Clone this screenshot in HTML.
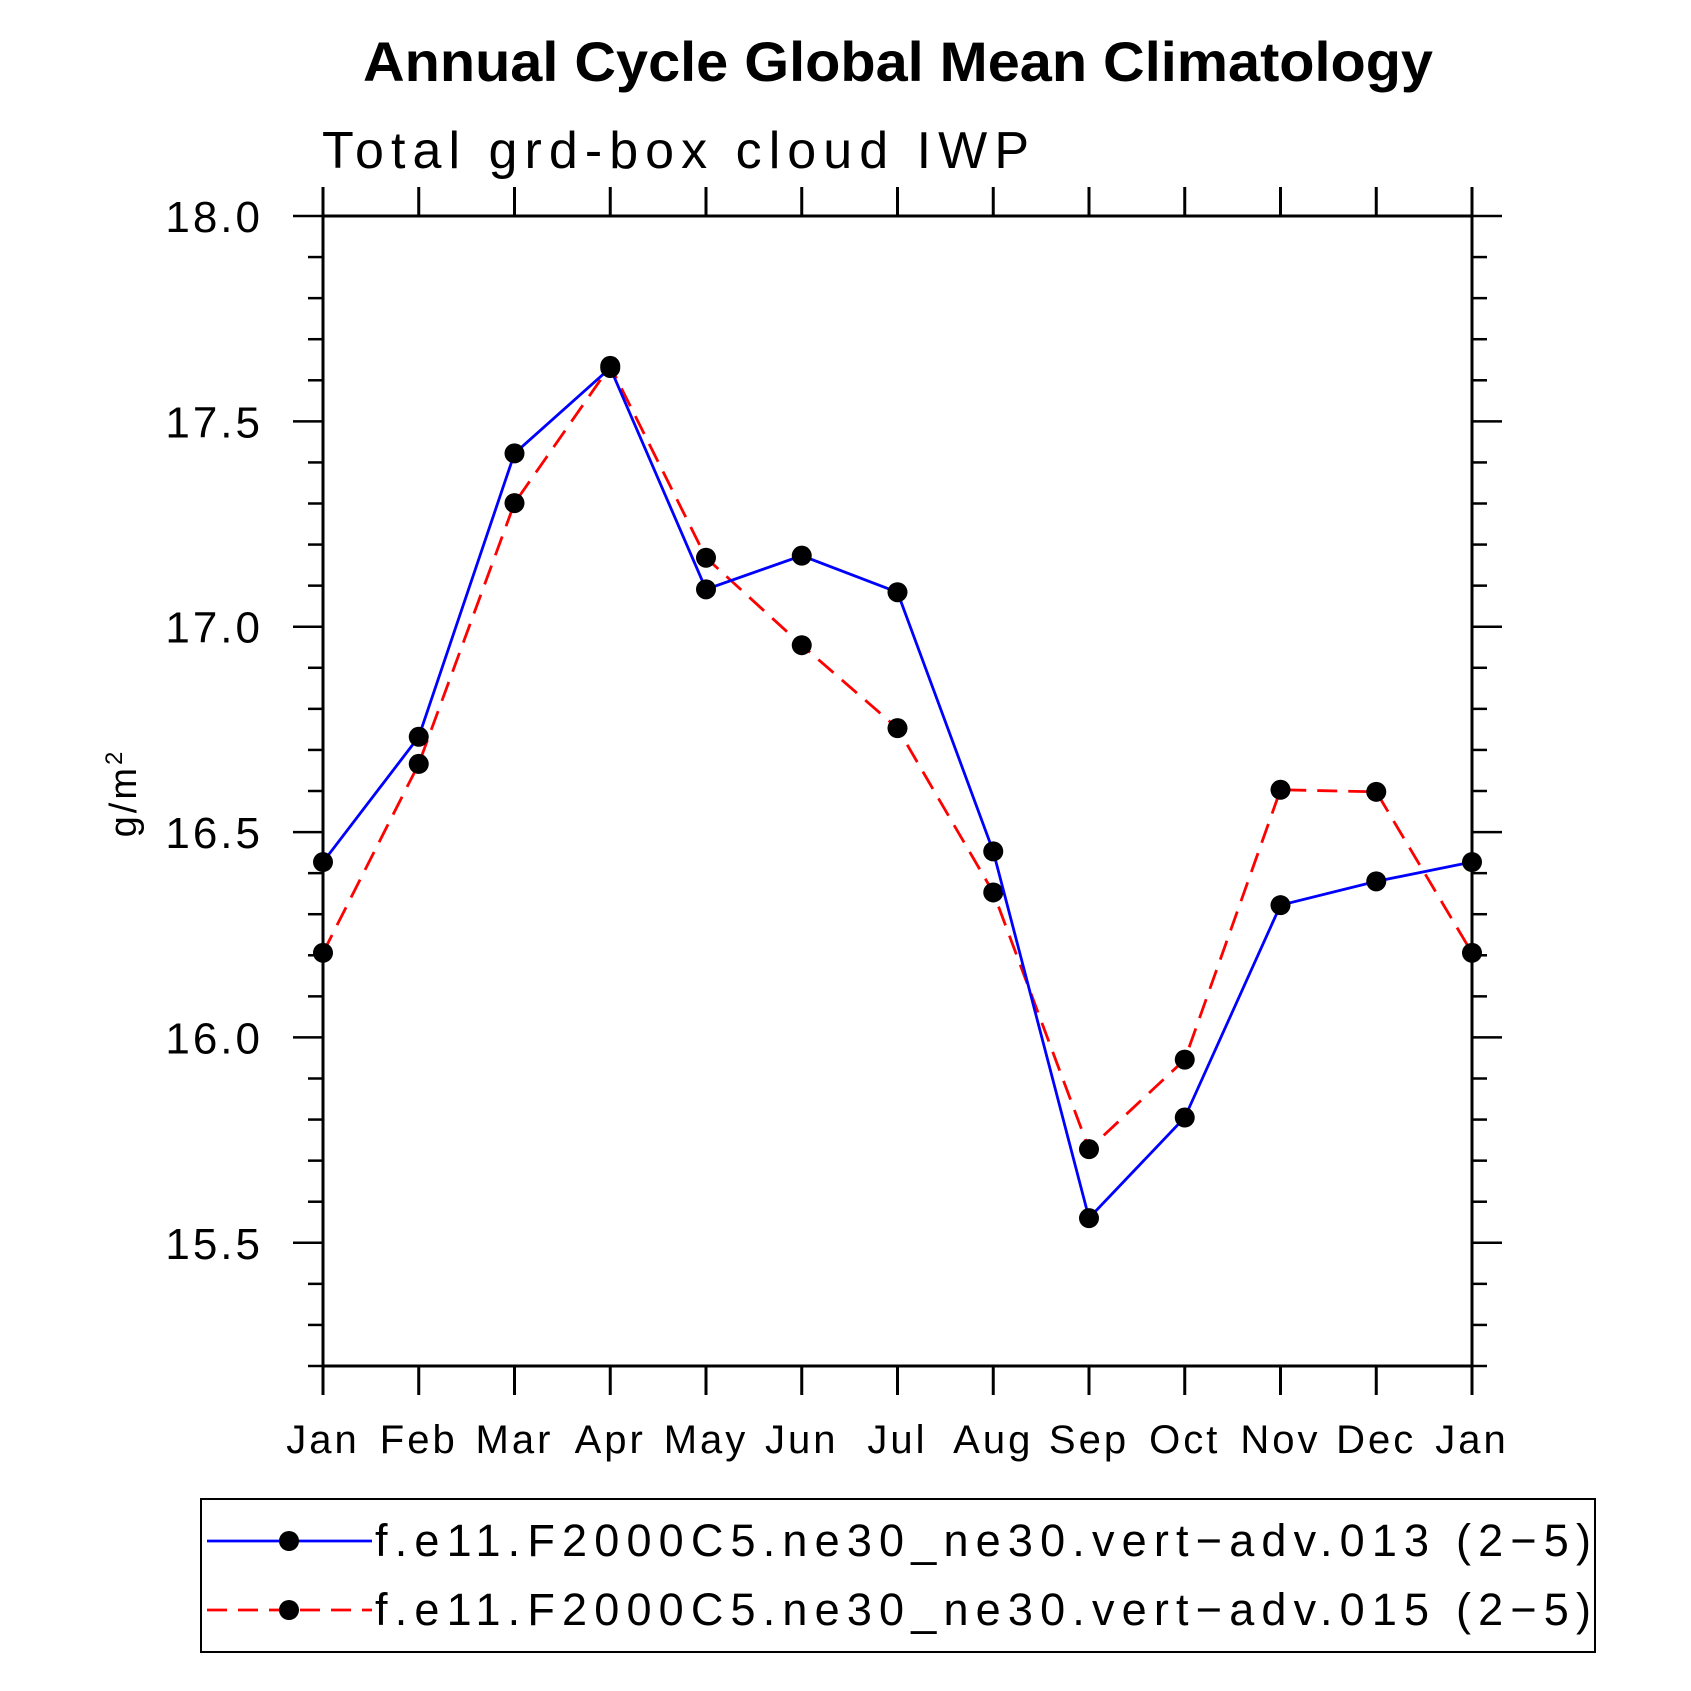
<!DOCTYPE html>
<html><head><meta charset="utf-8"><style>
html,body{margin:0;padding:0;background:#fff;}
svg{display:block;font-family:"Liberation Sans",sans-serif;}
</style></head><body>
<svg id="chart" width="1691" height="1691" viewBox="0 0 1691 1691" xmlns="http://www.w3.org/2000/svg">
<text x="363" y="81" font-size="56" font-weight="bold" textLength="1070" lengthAdjust="spacingAndGlyphs">Annual Cycle Global Mean Climatology</text>
<text x="322" y="168" font-size="52" font-weight="300" textLength="707" lengthAdjust="spacing">Total grd-box cloud IWP</text>
<text transform="translate(136,793) rotate(-90)" font-size="38" text-anchor="middle" letter-spacing="3">g/m<tspan font-size="24" dy="-14">2</tspan></text>
<g id="axes"></g>
<g id="series"></g>
<rect x="201" y="1499" width="1394" height="153" fill="none" stroke="#000" stroke-width="2"/>
<g>
<line x1="207" y1="1541" x2="372" y2="1541" stroke="#0000ff" stroke-width="2.8"/>
<circle cx="289" cy="1541" r="10" fill="#000"/>
<text x="375" y="1556" font-size="45" textLength="1216" lengthAdjust="spacing">f.e11.F2000C5.ne30_ne30.vert−adv.013 (2−5)</text>
</g>
<g>
<line x1="207" y1="1610" x2="372" y2="1610" stroke="#ff0000" stroke-width="2.8" stroke-dasharray="20,11"/>
<circle cx="289" cy="1610" r="10" fill="#000"/>
<text x="375" y="1625" font-size="45" textLength="1216" lengthAdjust="spacing">f.e11.F2000C5.ne30_ne30.vert−adv.015 (2−5)</text>
</g>
</svg>
<script>
const months = ["Jan","Feb","Mar","Apr","May","Jun","Jul","Aug","Sep","Oct","Nov","Dec","Jan"];
const series013 = [16.427,16.732,17.422,17.630,17.091,17.173,17.084,16.453,15.560,15.805,16.322,16.380,16.427];
const series015 = [16.206,16.666,17.301,17.635,17.168,16.955,16.753,16.353,15.728,15.946,16.603,16.598,16.206];
const yTickLabels = ["15.5","16.0","16.5","17.0","17.5","18.0"];
const yMin = 15.2, yMax = 18.0;

const NS = "http://www.w3.org/2000/svg";
const L = 323, R = 1472, T = 216, B = 1366;
function xs(i){ return L + (R - L) * i / (months.length - 1); }
function ys(v){ return B - (B - T) * (v - yMin) / (yMax - yMin); }
function mk(tag, attrs, parent){
  const e = document.createElementNS(NS, tag);
  for (const k in attrs) e.setAttribute(k, attrs[k]);
  parent.appendChild(e); return e;
}
const axes = document.getElementById("axes");
const frame = mk("rect", {x:L, y:T, width:R-L, height:B-T, fill:"none", stroke:"#000", "stroke-width":3}, axes);


months.forEach((m, i) => {
  const x = xs(i);
  const t1 = mk("line", {x1:x, y1:B, x2:x, y2:B+29, stroke:"#000", "stroke-width":3}, axes);
  
  
  const t2 = mk("line", {x1:x, y1:T, x2:x, y2:T-29, stroke:"#000", "stroke-width":3}, axes);
  
  
  const lb = mk("text", {x:x, y:1453, "font-size":40, "text-anchor":"middle", "letter-spacing":"3"}, axes);
  lb.textContent = m;
  
  
});
for (let k = 0; k <= Math.round((yMax - yMin) * 10); k++) {
  const v = yMin + k * 0.1;
  const y = ys(v);
  const major = Math.abs(v * 2 - Math.round(v * 2)) < 1e-6;
  const len = major ? 30 : 15;
  const a = mk("line", {x1:L-len, y1:y, x2:L, y2:y, stroke:"#000", "stroke-width":2.5}, axes);
  
  
  const b = mk("line", {x1:R, y1:y, x2:R+len, y2:y, stroke:"#000", "stroke-width":2.5}, axes);
  
  
}
yTickLabels.forEach(s => {
  const y = ys(parseFloat(s));
  const lb = mk("text", {x:263, y:y+16, "font-size":44, "text-anchor":"end", "letter-spacing":"3"}, axes);
  lb.textContent = s;
  
  
});
const sg = document.getElementById("series");
function drawSeries(vals, color, dash, name){
  const pts = vals.map((v, i) => xs(i) + "," + ys(v)).join(" ");
  const pl = mk("polyline", {points:pts, fill:"none", stroke:color, "stroke-width":2.8}, sg);
  if (dash) pl.setAttribute("stroke-dasharray", dash);
  
  
  vals.forEach((v, i) => {
    const c = mk("circle", {cx:xs(i), cy:ys(v), r:10, fill:"#000"}, sg);
    
    
  });
}
drawSeries(series015, "#ff0000", "20,11", "series-015");
drawSeries(series013, "#0000ff", null, "series-013");
</script>
</body></html>
